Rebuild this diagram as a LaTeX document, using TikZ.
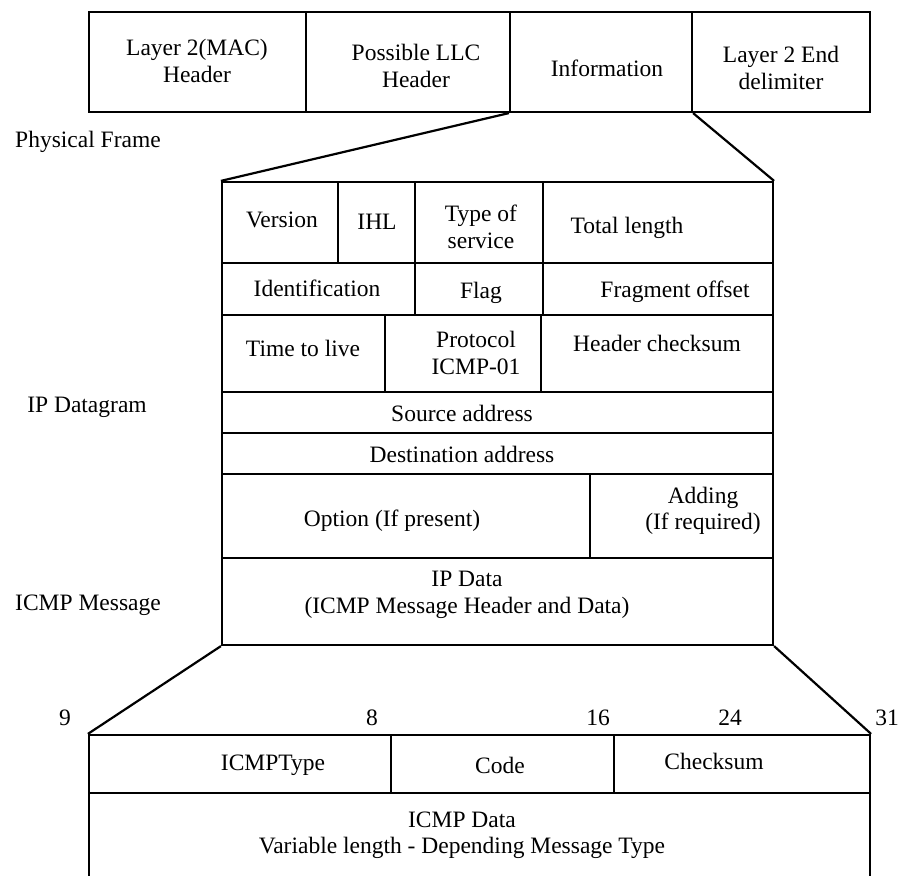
\documentclass[tikz,border=0pt]{standalone}
\usepackage{fontspec}
\setmainfont{Liberation Serif}
\usetikzlibrary{fit}
\begin{document}
\begin{tikzpicture}[x=1pt,y=-1pt,
  cellbox/.style={draw, line width=2.2pt, inner sep=0pt, fit={#1}},
  txt/.style={font=\fontsize{23.5}{26.5}\selectfont, align=center, inner sep=0pt},
  link/.style={line width=2.2pt}]
\clip (0,0) rectangle (904,875);

% ---------- physical frame ----------
\node[cellbox={(89,12) (306,112)}]  (mac)  {};
\node[cellbox={(306,12) (510,112)}] (llc)  {};
\node[cellbox={(510,12) (692,112)}] (info) {};
\node[cellbox={(692,12) (870,112)}] (endd) {};
\node[txt] (tmac)  at (197,61) {Layer 2(MAC)\\Header};
\node[txt] (tllc)  at (416,66) {Possible LLC\\Header};
\node[txt] (tinfo) at (607,68) {Information};
\node[txt] (tend)  at (781,68) {Layer 2 End\\delimiter};
\node[txt] (lphys) at (88,142) {Physical Frame};

% ---------- IP datagram ----------
\node[cellbox={(222,182) (338,263)}] (version) {};
\node[cellbox={(338,182) (415,263)}] (ihl)     {};
\node[cellbox={(415,182) (543,263)}] (tos)     {};
\node[cellbox={(543,182) (773,263)}] (tlen)    {};
\node[cellbox={(222,263) (415,315)}] (ident)   {};
\node[cellbox={(415,263) (543,315)}] (flag)    {};
\node[cellbox={(543,263) (773,315)}] (frag)    {};
\node[cellbox={(222,315) (385,392)}] (ttl)     {};
\node[cellbox={(385,315) (541,392)}] (proto)   {};
\node[cellbox={(541,315) (773,392)}] (hcks)    {};
\node[cellbox={(222,392) (773,433)}] (src)     {};
\node[cellbox={(222,433) (773,474)}] (dst)     {};
\node[cellbox={(222,474) (590,558)}] (opt)     {};
\node[cellbox={(590,474) (773,558)}] (pad)     {};
\node[cellbox={(222,558) (773,645)}] (ipdata)  {};

\node[txt] (tversion) at (282,220) {Version};
\node[txt] (tihl)     at (377,222) {IHL};
\node[txt] (ttos)     at (481,227) {Type of\\service};
\node[txt] (ttlen)    at (627,228) {Total length};
\node[txt] (tident)   at (317,288) {Identification};
\node[txt] (tflag)    at (481,293) {Flag};
\node[txt] (tfrag)    at (675,292) {Fragment offset};
\node[txt] (tttl)     at (303,348) {Time to live};
\node[txt] (tproto)   at (476,353) {Protocol\\ICMP-01};
\node[txt] (thcks)    at (657,343) {Header checksum};
\node[txt] (tsrc)     at (462,413) {Source address};
\node[txt] (tdst)     at (462,454) {Destination address};
\node[txt] (topt)     at (392,521) {Option (If present)};
\node[txt] (tpad)     at (703,511) {Adding\\(If required)};
\node[txt] (tipdata)  at (467,595) {IP Data\\(ICMP Message Header and Data)};
\node[txt] (lip)      at (87,407)  {IP Datagram};
\node[txt] (licmp)    at (88,605)  {ICMP Message};

% ---------- ICMP message ----------
\node[cellbox={(89,735) (391,793)}]  (itype) {};
\node[cellbox={(391,735) (614,793)}] (icode) {};
\node[cellbox={(614,735) (870,793)}] (icks)  {};
\node[cellbox={(89,793) (870,900)}]  (idata) {};
\node[txt] (titype) at (273,765) {ICMPType};
\node[txt] (ticode) at (500,765) {Code};
\node[txt] (ticks)  at (714,761) {Checksum};
\node[txt] (tidata) at (462,835) {ICMP Data\\Variable length - Depending Message Type};

% bit positions
\node[txt] (b9)  at (65,718)  {9};
\node[txt] (b8)  at (372,718) {8};
\node[txt] (b16) at (598,718) {16};
\node[txt] (b24) at (730,718) {24};
\node[txt] (b31) at (887,718) {31};

% ---------- expansion lines ----------
\draw[link] (info.south west) -- (version.north west);
\draw[link] (info.south east) -- (tlen.north east);
\draw[link] (ipdata.south west) -- (itype.north west);
\draw[link] (ipdata.south east) -- (icks.north east);
\end{tikzpicture}
\end{document}
